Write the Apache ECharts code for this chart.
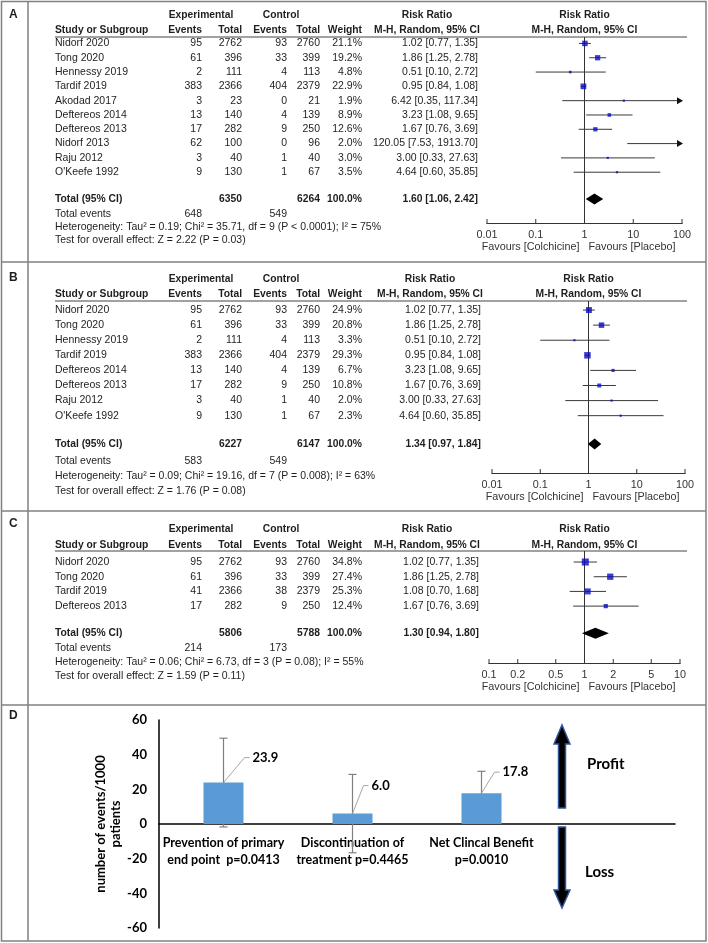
<!DOCTYPE html>
<html><head><meta charset="utf-8">
<script src="https://cdn.jsdelivr.net/npm/echarts@6/dist/echarts.min.js"></script>
<style>html,body{margin:0;padding:0;background:#fff}#c{width:708px;height:943px}</style>
</head><body><div id="c"></div>
<script>
// ---------------- Panel A data ----------------
const aStudies = ['Nidorf 2020','Tong 2020','Hennessy 2019','Tardif 2019','Akodad 2017','Deftereos 2014','Deftereos 2013','Nidorf 2013','Raju 2012',"O'Keefe 1992"];
const aExpEvents = [95,61,2,383,3,13,17,62,3,9];
const aExpTotal = [2762,396,111,2366,23,140,282,100,40,130];
const aCtrlEvents = [93,33,4,404,0,4,9,0,1,1];
const aCtrlTotal = [2760,399,113,2379,21,139,250,96,40,67];
const aWeight = [21.1,19.2,4.8,22.9,1.9,8.9,12.6,2.0,3.0,3.5];
const aRR = [1.02,1.86,0.51,0.95,6.42,3.23,1.67,120.05,3.00,4.64];
const aLow = [0.77,1.25,0.10,0.84,0.35,1.08,0.76,7.53,0.33,0.60];
const aHigh = [1.35,2.78,2.72,1.08,117.34,9.65,3.69,1913.70,27.63,35.85];
const aTotals = [6350, 6264];
const aTotalEvents = [648, 549];
const aPooled = [1.60, 1.06, 2.42];
const aHet = 'Heterogeneity: Tau² = 0.19; Chi² = 35.71, df = 9 (P < 0.0001); I² = 75%';
const aTest = 'Test for overall effect: Z = 2.22 (P = 0.03)';
const aTicks = [0.01, 0.1, 1, 10, 100];

// ---------------- Panel B data ----------------
const bStudies = ['Nidorf 2020','Tong 2020','Hennessy 2019','Tardif 2019','Deftereos 2014','Deftereos 2013','Raju 2012',"O'Keefe 1992"];
const bExpEvents = [95,61,2,383,13,17,3,9];
const bExpTotal = [2762,396,111,2366,140,282,40,130];
const bCtrlEvents = [93,33,4,404,4,9,1,1];
const bCtrlTotal = [2760,399,113,2379,139,250,40,67];
const bWeight = [24.9,20.8,3.3,29.3,6.7,10.8,2.0,2.3];
const bRR = [1.02,1.86,0.51,0.95,3.23,1.67,3.00,4.64];
const bLow = [0.77,1.25,0.10,0.84,1.08,0.76,0.33,0.60];
const bHigh = [1.35,2.78,2.72,1.08,9.65,3.69,27.63,35.85];
const bTotals = [6227, 6147];
const bTotalEvents = [583, 549];
const bPooled = [1.34, 0.97, 1.84];
const bHet = 'Heterogeneity: Tau² = 0.09; Chi² = 19.16, df = 7 (P = 0.008); I² = 63%';
const bTest = 'Test for overall effect: Z = 1.76 (P = 0.08)';
const bTicks = [0.01, 0.1, 1, 10, 100];

// ---------------- Panel C data ----------------
const cStudies = ['Nidorf 2020','Tong 2020','Tardif 2019','Deftereos 2013'];
const cExpEvents = [95,61,41,17];
const cExpTotal = [2762,396,2366,282];
const cCtrlEvents = [93,33,38,9];
const cCtrlTotal = [2760,399,2379,250];
const cWeight = [34.8,27.4,25.3,12.4];
const cRR = [1.02,1.86,1.08,1.67];
const cLow = [0.77,1.25,0.70,0.76];
const cHigh = [1.35,2.78,1.68,3.69];
const cTotals = [5806, 5788];
const cTotalEvents = [214, 173];
const cPooled = [1.30, 0.94, 1.80];
const cHet = 'Heterogeneity: Tau² = 0.06; Chi² = 6.73, df = 3 (P = 0.08); I² = 55%';
const cTest = 'Test for overall effect: Z = 1.59 (P = 0.11)';
const cTicks = [0.1, 0.2, 0.5, 1, 2, 5, 10];

// ---------------- Panel D data ----------------
const dCategories = ['Prevention of primary\nend point  p=0.0413', 'Discontinuation of\ntreatment p=0.4465', 'Net Clincal Benefit\np=0.0010', ''];
const dValues = [23.9, 6.0, 17.8];
const dErrors = [25.6, 22.6, 12.6];
const dYName = 'number of events/1000\npatients';

// ---------------- layout ----------------
const FONT = '"Liberation Sans", Arial, sans-serif';
const DFONT = 'Lato, "Open Sans", sans-serif';
const TXT = '#1e1e1e';
const FRAME = '#808080';
const FS = 10.5, FSB = 10.3;
// callout offsets (pixels) for the value labels of panel D
const dCalloutDx = [21, 11, 13];
const dCalloutDy = [-25, -28, -21];

const panels = [
  { letter:'A', studies:aStudies, expEv:aExpEvents, expTot:aExpTotal, ctlEv:aCtrlEvents, ctlTot:aCtrlTotal, w:aWeight, rr:aRR, lo:aLow, hi:aHigh,
    totals:aTotals, totEv:aTotalEvents, pooled:aPooled, het:aHet, test:aTest, ticks:aTicks,
    hdr1:15, hdr2:30, top:37, axisY:223, yMin:-0.45, yMax:12.55, pooledRow:10.87, foot:[15,28,41], xl:487, xr:682, rrRight:478, rrHdr:427 },
  { letter:'B', studies:bStudies, expEv:bExpEvents, expTot:bExpTotal, ctlEv:bCtrlEvents, ctlTot:bCtrlTotal, w:bWeight, rr:bRR, lo:bLow, hi:bHigh,
    totals:bTotals, totEv:bTotalEvents, pooled:bPooled, het:bHet, test:bTest, ticks:bTicks,
    hdr1:279, hdr2:294, top:301, axisY:473, yMin:-0.6, yMax:10.8, pooledRow:8.88, foot:[17,32,47], xl:492, xr:685, rrRight:481, rrHdr:430 },
  { letter:'C', studies:cStudies, expEv:cExpEvents, expTot:cExpTotal, ctlEv:cCtrlEvents, ctlTot:cCtrlTotal, w:cWeight, rr:cRR, lo:cLow, hi:cHigh,
    totals:cTotals, totEv:cTotalEvents, pooled:cPooled, het:cHet, test:cTest, ticks:cTicks,
    hdr1:529, hdr2:545, top:551, axisY:663, yMin:-0.75, yMax:6.87, pooledRow:4.85, foot:[15,29,43], xl:489, xr:680, rrRight:479, rrHdr:427 }
];
const sepY = [262, 511, 705];
const letterY = [15, 278, 524, 716];

function rowPix(p, r) { return p.top + (r - p.yMin) / (p.yMax - p.yMin) * (p.axisY - p.top); }
function xPix(p, v) {
  const a = Math.log10(p.ticks[0]), b = Math.log10(p.ticks[p.ticks.length - 1]);
  return p.xl + (Math.log10(v) - a) / (b - a) * (p.xr - p.xl);
}

const g = [];
function T(x, y, text, o) {
  o = o || {};
  const al = o.align || 'left';
  g.push({ type:'text', silent:true, style:{ x:x, y:y, text:text, fill:o.fill || TXT,
    font:(o.bold ? 'bold ' : '') + (o.size || (o.bold ? FSB : FS)) + 'px ' + (o.family || FONT),
    textAlign:al, align:al, textVerticalAlign:'middle', verticalAlign:'middle' } });
}
function L(x1, y1, x2, y2, stroke, w) {
  g.push({ type:'line', silent:true, shape:{ x1:x1, y1:y1, x2:x2, y2:y2 }, style:{ stroke:stroke, lineWidth:w } });
}

// frame
g.push({ type:'rect', silent:true, shape:{ x:1.5, y:1.5, width:704.5, height:939.5 }, style:{ fill:'none', stroke:FRAME, lineWidth:1.5 } });
L(28, 1.5, 28, 941, FRAME, 1.5);
sepY.forEach(y => L(1.5, y, 706, y, FRAME, 1.5));
['A','B','C','D'].forEach((t, i) => T(9, letterY[i], t, { bold:true, size:12 }));

const colExpEv = 202, colExpTot = 242, colCtlEv = 287, colCtlTot = 320, colW = 362, colName = 55;

panels.forEach(p => {
  const fc = xPix(p, 1);
  T(201, p.hdr1, 'Experimental', { bold:true, align:'center' });
  T(281, p.hdr1, 'Control', { bold:true, align:'center' });
  T(p.rrHdr, p.hdr1, 'Risk Ratio', { bold:true, align:'center' });
  T(fc, p.hdr1, 'Risk Ratio', { bold:true, align:'center' });
  T(colName, p.hdr2, 'Study or Subgroup', { bold:true });
  T(colExpEv, p.hdr2, 'Events', { bold:true, align:'right' });
  T(colExpTot, p.hdr2, 'Total', { bold:true, align:'right' });
  T(colCtlEv, p.hdr2, 'Events', { bold:true, align:'right' });
  T(colCtlTot, p.hdr2, 'Total', { bold:true, align:'right' });
  T(colW, p.hdr2, 'Weight', { bold:true, align:'right' });
  T(p.rrHdr, p.hdr2, 'M-H, Random, 95% CI', { bold:true, align:'center' });
  T(fc, p.hdr2, 'M-H, Random, 95% CI', { bold:true, align:'center' });
  L(colName, p.top, 687, p.top, '#444', 1);
  p.studies.forEach((s, i) => {
    const y = rowPix(p, i);
    T(colName, y, s);
    T(colExpEv, y, String(p.expEv[i]), { align:'right' });
    T(colExpTot, y, String(p.expTot[i]), { align:'right' });
    T(colCtlEv, y, String(p.ctlEv[i]), { align:'right' });
    T(colCtlTot, y, String(p.ctlTot[i]), { align:'right' });
    T(colW, y, p.w[i].toFixed(1) + '%', { align:'right' });
    T(p.rrRight, y, p.rr[i].toFixed(2) + ' [' + p.lo[i].toFixed(2) + ', ' + p.hi[i].toFixed(2) + ']', { align:'right' });
  });
  const py = rowPix(p, p.pooledRow);
  const wSum = p.w.reduce((s, v) => s + v, 0);
  T(colName, py, 'Total (95% CI)', { bold:true });
  T(colExpTot, py, String(p.totals[0]), { bold:true, align:'right' });
  T(colCtlTot, py, String(p.totals[1]), { bold:true, align:'right' });
  T(colW, py, (Math.round(wSum / 10) * 10).toFixed(1) + '%', { bold:true, align:'right' });
  T(p.rrRight, py, p.pooled[0].toFixed(2) + ' [' + p.pooled[1].toFixed(2) + ', ' + p.pooled[2].toFixed(2) + ']', { bold:true, align:'right' });
  T(colName, py + p.foot[0], 'Total events');
  T(colExpEv, py + p.foot[0], String(p.totEv[0]), { align:'right' });
  T(colCtlEv, py + p.foot[0], String(p.totEv[1]), { align:'right' });
  T(colName, py + p.foot[1], p.het);
  T(colName, py + p.foot[2], p.test);
});

// Panel D arrows (annotation)
const arrowStyle = { fill:'#000', stroke:'#2f5597', lineWidth:1.5 };
g.push({ type:'polygon', silent:true, shape:{ points:[[562,725],[570,744],[565.5,744],[565.5,808],[558.5,808],[558.5,744],[554,744]] }, style:arrowStyle });
g.push({ type:'polygon', silent:true, shape:{ points:[[558.5,827],[565.5,827],[565.5,890],[570,890],[562,908],[554,890],[558.5,890]] }, style:arrowStyle });
T(587, 764, 'Profit', { bold:true, size:15, family:DFONT, fill:'#000' });
T(585, 872, 'Loss', { bold:true, size:15, family:DFONT, fill:'#000' });

// ---------------- series ----------------
const grids = [], xAxes = [], yAxes = [], series = [];
panels.forEach((p, k) => {
  const min = p.ticks[0], max = p.ticks[p.ticks.length - 1];
  grids.push({ left:p.xl, width:p.xr - p.xl, top:p.top, height:p.axisY - p.top, containLabel:false, outerBoundsMode:'none' });
  xAxes.push({ type:'log', logBase:10, gridIndex:k, min:min, max:max,
    axisLine:{ show:true, onZero:false, lineStyle:{ color:'#333', width:1 } },
    axisTick:{ show:false }, axisLabel:{ show:false }, splitLine:{ show:false } });
  yAxes.push({ type:'value', gridIndex:k, inverse:true, min:p.yMin, max:p.yMax, show:false });
  const ax = { xAxisIndex:k, yAxisIndex:k };
  // vertical line of no effect + favours labels
  series.push(Object.assign({ type:'custom', silent:true, data:[[1, p.yMin]], encode:{ x:0, y:1 },
    renderItem: (params, api) => {
      const t = api.coord([1, p.yMin]), b = api.coord([1, p.yMax]);
      return { type:'group', children:[
        { type:'line', shape:{ x1:t[0], y1:t[1], x2:b[0], y2:b[1] }, style:{ stroke:'#333', lineWidth:1 } },
        { type:'text', style:{ x:b[0] - 5, y:b[1] + 24, text:'Favours [Colchicine]', align:'right', verticalAlign:'middle', font:'10.8px ' + FONT, fill:'#333' } },
        { type:'text', style:{ x:b[0] + 4, y:b[1] + 24, text:'Favours [Placebo]', align:'left', verticalAlign:'middle', font:'10.8px ' + FONT, fill:'#333' } }
      ] };
    } }, ax));
  // axis ticks + labels
  series.push(Object.assign({ type:'custom', silent:true, data:p.ticks.map(t => [t, p.yMax]), encode:{ x:0, y:1 },
    renderItem: (params, api) => {
      const v = api.value(0), c = api.coord([v, p.yMax]);
      return { type:'group', children:[
        { type:'line', shape:{ x1:c[0], y1:c[1] - 4, x2:c[0], y2:c[1] + 1 }, style:{ stroke:'#333', lineWidth:1 } },
        { type:'text', style:{ x:c[0], y:c[1] + 12, text:String(v), align:'center', verticalAlign:'middle', font:'10.8px ' + FONT, fill:'#333' } }
      ] };
    } }, ax));
  // confidence intervals
  series.push(Object.assign({ type:'custom', silent:true, data:p.lo.map((lo, i) => [lo, p.hi[i], i]), encode:{ x:[0, 1], y:2 },
    renderItem: (params, api) => {
      const lo = api.value(0), hi = api.value(1), r = api.value(2);
      const a = api.coord([Math.max(lo, min), r]), b = api.coord([Math.min(hi, max), r]);
      const ch = [{ type:'line', shape:{ x1:a[0], y1:a[1], x2:b[0], y2:b[1] }, style:{ stroke:'#3a3a3a', lineWidth:1 } }];
      if (hi > max) ch.push({ type:'polygon', shape:{ points:[[b[0] - 5, b[1] - 3.5], [b[0] + 1, b[1]], [b[0] - 5, b[1] + 3.5]] }, style:{ fill:'#111' } });
      if (lo < min) ch.push({ type:'polygon', shape:{ points:[[a[0] + 5, a[1] - 3.5], [a[0] - 1, a[1]], [a[0] + 5, a[1] + 3.5]] }, style:{ fill:'#111' } });
      return { type:'group', children:ch };
    } }, ax));
  // study squares
  series.push(Object.assign({ type:'scatter', silent:true, symbol:'rect',
    data:p.rr.map((v, i) => [v, i, p.w[i]]).filter(d => d[0] >= min && d[0] <= max),
    symbolSize: v => Math.max(2.2, Math.sqrt(v[2]) * 1.2),
    itemStyle:{ color:'#0b0bc8' } }, ax));
  // pooled diamond
  series.push(Object.assign({ type:'custom', silent:true, data:[[p.pooled[1], p.pooled[2], p.pooledRow, p.pooled[0]]], encode:{ x:[0, 1, 3], y:2 },
    renderItem: (params, api) => {
      const r = api.value(2);
      const l = api.coord([api.value(0), r]), h = api.coord([api.value(1), r]), e = api.coord([api.value(3), r]);
      return { type:'polygon', shape:{ points:[[l[0], l[1]], [e[0], e[1] - 5.5], [h[0], h[1]], [e[0], e[1] + 5.5]] }, style:{ fill:'#000' } };
    } }, ax));
});

// Panel D
grids.push({ left:159, right:33, top:720, height:208, containLabel:false, outerBoundsMode:'none' });
xAxes.push({ type:'category', gridIndex:3, data:dCategories,
  axisLine:{ show:true, onZero:true, lineStyle:{ color:'#000', width:1.5 } }, axisTick:{ show:false },
  axisLabel:{ show:false } });
yAxes.push({ type:'value', gridIndex:3, min:-60, max:60, interval:20,
  axisLine:{ show:true, lineStyle:{ color:'#000', width:1.5 } }, axisTick:{ show:false }, splitLine:{ show:false },
  axisLabel:{ margin:12, color:'#000', fontFamily:DFONT, fontWeight:'bold', fontSize:13 },
  name:dYName, nameLocation:'middle', nameRotate:90, nameGap:36, nameMoveOverlap:false,
  nameTextStyle:{ color:'#000', fontFamily:DFONT, fontWeight:'bold', fontSize:13, lineHeight:15 } });
series.push({ type:'bar', xAxisIndex:3, yAxisIndex:3, data:dValues, barWidth:40, silent:true, itemStyle:{ color:'#5b9bd5' } });
// category labels just below the zero line
series.push({ type:'custom', xAxisIndex:3, yAxisIndex:3, silent:true, data:dCategories.map((c, i) => [i, 0]), encode:{ x:0, y:1 },
  renderItem: (params, api) => {
    const i = api.value(0), c = api.coord([i, 0]);
    return { type:'text', style:{ x:c[0], y:c[1] + 10, text:dCategories[i], align:'center', verticalAlign:'top',
      font:'bold 12.5px ' + DFONT, lineHeight:17, fill:'#000' } };
  } });
// error bars + value callouts
series.push({ type:'custom', xAxisIndex:3, yAxisIndex:3, silent:true, data:dValues.map((v, i) => [i, v, dErrors[i]]), encode:{ x:0, y:1 },
  renderItem: (params, api) => {
    const i = api.value(0), v = api.value(1), e = api.value(2);
    const t = api.coord([i, v + e]), b = api.coord([i, v - e]), m = api.coord([i, v]);
    const x = m[0], lx = x + dCalloutDx[i], ly = m[1] + dCalloutDy[i];
    const es = { stroke:'#7f7f7f', lineWidth:1.2 };
    return { type:'group', children:[
      { type:'line', shape:{ x1:x, y1:t[1], x2:x, y2:b[1] }, style:es },
      { type:'line', shape:{ x1:x - 4, y1:t[1], x2:x + 4, y2:t[1] }, style:es },
      { type:'line', shape:{ x1:x - 4, y1:b[1], x2:x + 4, y2:b[1] }, style:es },
      { type:'polyline', shape:{ points:[[x, m[1]], [lx, ly], [lx + 5, ly]] }, style:{ stroke:'#a6a6a6', lineWidth:1, fill:'none' } },
      { type:'text', style:{ x:lx + 8, y:ly, text:v.toFixed(1), align:'left', verticalAlign:'middle', font:'bold 13px ' + DFONT, fill:'#000' } }
    ] };
  } });

const chart = echarts.init(document.getElementById('c'), null, { renderer:'canvas' });
chart.setOption({ animation:false, backgroundColor:'#fff', grid:grids, xAxis:xAxes, yAxis:yAxes, series:series, graphic:{ elements:g } });
</script></body></html>
